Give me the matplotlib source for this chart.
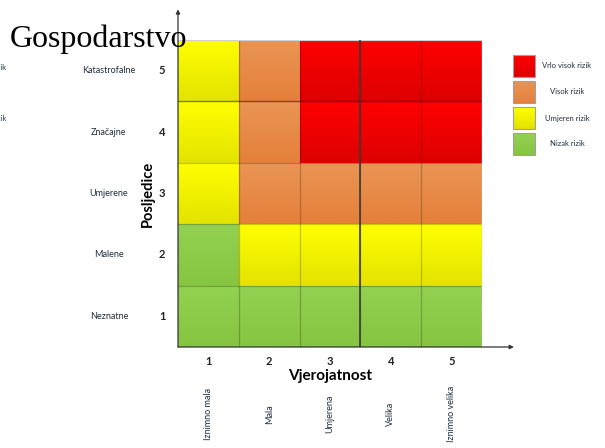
import numpy as np
import matplotlib
matplotlib.use("Agg")
import matplotlib.pyplot as plt
from matplotlib.patches import Rectangle

plt.rcParams['font.family'] = ['Lato', 'DejaVu Sans']

# risk matrix data
prob_ticks = [1, 2, 3, 4, 5]
prob_labels = ['Iznimno mala', 'Mala', 'Umjerena', 'Velika', 'Iznimno velika']
cons_ticks = [1, 2, 3, 4, 5]
cons_labels = ['Neznatne', 'Malene', 'Umjerene', 'Značajne', 'Katastrofalne']
# rows = posljedice 1..5, cols = vjerojatnost 1..5 ; 1 nizak .. 4 vrlo visok
levels = [
    [1, 1, 1, 1, 1],
    [1, 2, 2, 2, 2],
    [2, 3, 3, 3, 3],
    [2, 3, 4, 4, 4],
    [2, 3, 4, 4, 4],
]
legend_labels = ['Vrlo visok rizik', 'Visok rizik', 'Umjeren rizik', 'Nizak rizik']
legend_levels = [4, 3, 2, 1]

# top / bottom colours for the gradient of each level
grad = {
    1: ('#93d152', '#86c540'),
    2: ('#ffff00', '#e3e300'),
    3: ('#ea9555', '#e5803a'),
    4: ('#ff0000', '#de0000'),
}

def hex2rgb(h):
    return np.array(matplotlib.colors.to_rgb(h))

def cell_img(lv, n=40):
    t = np.linspace(0, 1, n)[:, None]
    top, bot = hex2rgb(grad[lv][0]), hex2rgb(grad[lv][1])
    col = top[None, :] * (1 - t) + bot[None, :] * t
    return np.repeat(col[:, None, :], 2, axis=1)

fig = plt.figure(figsize=(6.05, 4.48), dpi=100)
W, H = 605.0, 448.0
ax = fig.add_axes([178 / W, 1 - 347 / H, 304 / W, 307 / H])
ax.set_xlim(0.5, 5.5)
ax.set_ylim(0.5, 5.5)

for i, row in enumerate(levels):
    for j, lv in enumerate(row):
        x, y = prob_ticks[j], cons_ticks[i]
        ax.imshow(cell_img(lv), extent=(x - 0.5, x + 0.5, y - 0.5, y + 0.5),
                  aspect='auto', interpolation='bilinear', zorder=1)

# cell borders
for v in np.arange(1.5, 5.5, 1):
    ax.axvline(v, color=(0, 0, 0, 0.22), lw=0.9, zorder=2)
    ax.axhline(v, color=(0, 0, 0, 0.22), lw=0.9, zorder=2)
ax.axhline(4.5, color=(0, 0, 0, 0.35), lw=1.0, zorder=2)
ax.axvline(3.5, color='#3a3a3a', lw=1.2, zorder=3)
ax.axvline(5.5, color='#c8c8c8', lw=1.0, zorder=2)
ax.axhline(5.5, color='#d0d0d0', lw=0.8, zorder=2)

ax.set_xlim(0.5, 5.5)
ax.set_ylim(0.5, 5.5)
for s in ax.spines.values():
    s.set_visible(False)
ax.set_xticks([])
ax.set_yticks([])

# axis arrows
ax.annotate('', xy=(0, 1.10), xytext=(0, 0), xycoords='axes fraction',
            arrowprops=dict(arrowstyle='-|>', color='#333333', lw=0.9,
                            mutation_scale=6, shrinkA=0, shrinkB=0))
ax.annotate('', xy=(1.105, 0), xytext=(0, 0), xycoords='axes fraction',
            arrowprops=dict(arrowstyle='-|>', color='#333333', lw=0.9,
                            mutation_scale=6, shrinkA=0, shrinkB=0))

tr = ax.get_yaxis_transform()
for t, lab in zip(cons_ticks, cons_labels):
    ax.text(-0.052, t, str(t), transform=tr, ha='center', va='center',
            fontsize=8, fontweight='bold', color='#222222')
    ax.text(-0.227, t, lab, transform=tr, ha='center', va='center',
            fontsize=6.5, color='#1f2f3f')
ax.text(-0.1, 0.5, 'Posljedice', transform=ax.transAxes, rotation=90,
        ha='center', va='center', fontsize=10.5, fontweight='bold')

trx = ax.get_xaxis_transform()
for t, lab in zip(prob_ticks, prob_labels):
    ax.text(t, -0.048, str(t), transform=trx, ha='center', va='center',
            fontsize=8, fontweight='bold', color='#222222')
    ax.text(t, -0.218, lab, transform=trx, rotation=90, ha='center',
            va='center', fontsize=6.5, color='#1f2f3f')
ax.text(0.50, -0.095, 'Vjerojatnost', transform=ax.transAxes, ha='center',
        va='center', fontsize=11, fontweight='bold')

# title
fig.text(10 / W, 1 - 47 / H, 'Gospodarstvo', family='Liberation Serif',
         fontsize=23, ha='left', va='baseline', zorder=10)

# cut-off labels at the left edge
fig.text(6 / W, 1 - 68 / H, 'Vrlo visok rizik', ha='right', va='center',
         fontsize=5.5, color='#1f3f4f')
fig.text(6 / W, 1 - 118 / H, 'Visok rizik', ha='right', va='center',
         fontsize=5.5, color='#1f3f4f')

# legend
lax = fig.add_axes([505 / W, 1 - 165 / H, 100 / W, 120 / H])
lax.set_xlim(505, 605)
lax.set_ylim(165, 45)
lax.axis('off')
for k, (lab, lv) in enumerate(zip(legend_labels, legend_levels)):
    y0 = 55 + 26 * k
    lax.imshow(cell_img(lv), extent=(513, 535, y0 + 22, y0), aspect='auto',
               interpolation='bilinear')
    lax.add_patch(Rectangle((513, y0), 22, 22, fill=False, ec='#a0a0a0', lw=0.8))
    lax.text(567, y0 + 11, lab, ha='center', va='center', fontsize=5.5,
             color='#1f2f3f')
lax.set_xlim(505, 605)
lax.set_ylim(165, 45)

fig.savefig('out.png', dpi=100)
